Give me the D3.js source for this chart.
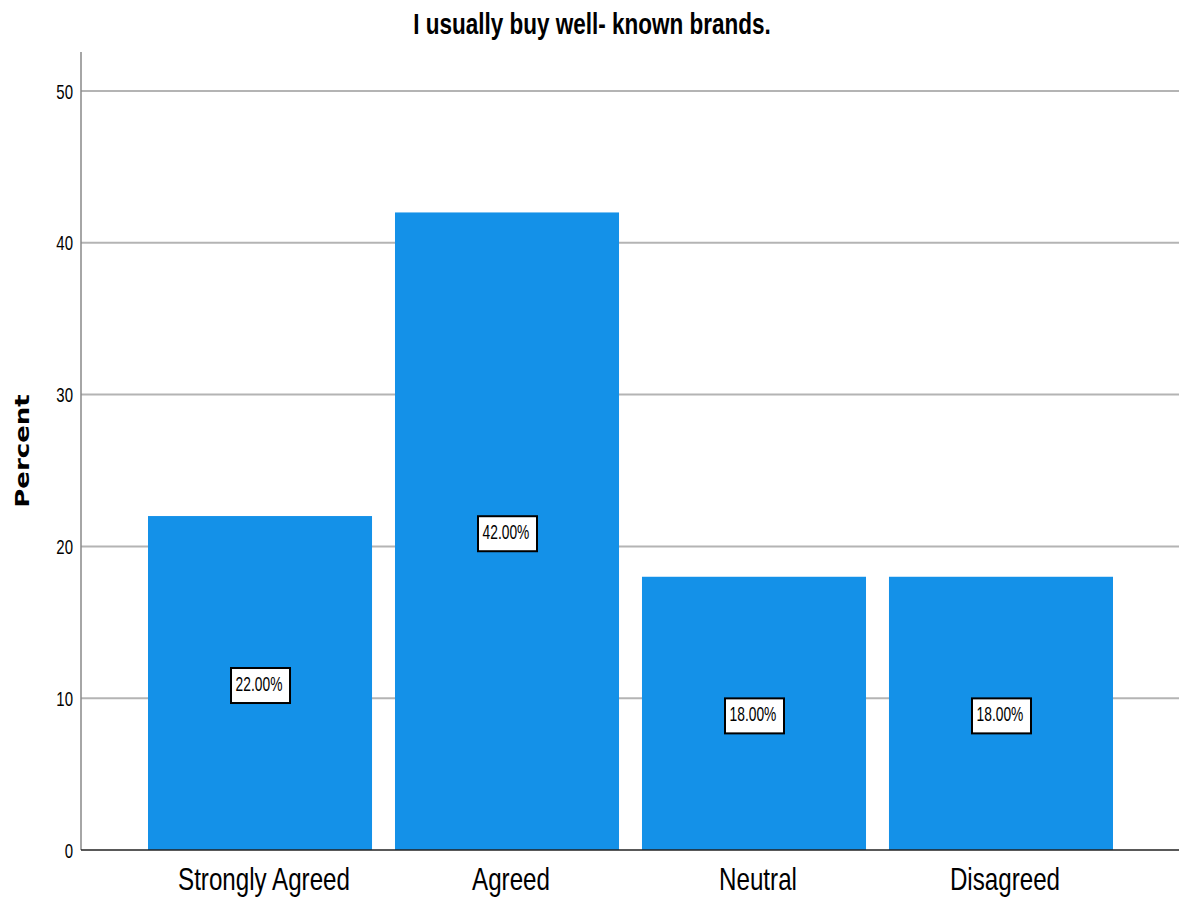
<!DOCTYPE html>
<html><head><meta charset="utf-8">
<script src="https://cdn.jsdelivr.net/npm/d3@7"></script>
<style>body{margin:0;background:#fff}svg{display:block}</style>
</head><body>
<svg id="c" width="1179" height="898"></svg>
<script>
const categories = ["Strongly Agreed", "Agreed", "Neutral", "Disagreed"];
const percents = [22, 42, 18, 18];
const labels = ["22.00%", "42.00%", "18.00%", "18.00%"];
const yTicks = [0, 10, 20, 30, 40, 50];
const title = "I usually buy well- known brands.";
const yTitle = "Percent";

const svg = d3.select("#c");
const mLeft = 81, mRight = 1179, mTop = 52, mBottom = 850;
const font = "'Liberation Sans', Arial, sans-serif";

const y = d3.scaleLinear().domain([0, 52.57]).range([mBottom, mTop]);
const x = d3.scaleBand().domain(categories).range([148, 1113]).paddingInner(0.093).paddingOuter(0);

// gridlines
svg.append("g").selectAll("line").data(yTicks.filter(d => d > 0)).join("line")
  .attr("x1", mLeft).attr("x2", mRight)
  .attr("y1", d => y(d)).attr("y2", d => y(d))
  .attr("stroke", "#b4b4b4").attr("stroke-width", 2);

// bars
svg.append("g").selectAll("rect").data(percents).join("rect")
  .attr("x", (d, i) => x(categories[i]))
  .attr("width", x.bandwidth())
  .attr("y", d => y(d))
  .attr("height", d => mBottom - y(d))
  .attr("fill", "#1491e8");

// y axis
const yAxis = d3.axisLeft(y).tickValues(yTicks).tickSize(0).tickPadding(0);
const ga = svg.append("g").attr("transform", `translate(${mLeft},0)`).call(yAxis);
ga.select(".domain").remove();
ga.selectAll("text").attr("font-family", font).attr("font-size", 20).attr("fill", "#000")
  .attr("x", 0).attr("dy", "0.35em").attr("transform", "translate(-8,0) scale(0.75,1)");
svg.append("line").attr("x1", mLeft).attr("x2", mLeft).attr("y1", mTop).attr("y2", mBottom)
  .attr("stroke", "#888").attr("stroke-width", 1.5);

// x axis
const xAxis = d3.axisBottom(x).tickSize(0).tickPadding(0);
const gx = svg.append("g").attr("transform", `translate(0,${mBottom})`).call(xAxis);
gx.select(".domain").remove();
gx.selectAll("text").attr("font-family", font).attr("font-size", 31).attr("fill", "#000")
  .attr("y", 0).attr("dy", 0).attr("transform", "translate(4,40) scale(0.78,1)");
svg.append("line").attr("x1", mLeft).attr("x2", mRight).attr("y1", mBottom).attr("y2", mBottom)
  .attr("stroke", "#222").attr("stroke-width", 1.5);

// value labels
const lg = svg.append("g").selectAll("g").data(percents).join("g")
  .attr("transform", (d, i) => `translate(${x(categories[i]) + x.bandwidth() / 2},${y(d / 2) + 2})`);
lg.append("rect").attr("x", -29).attr("y", -17).attr("width", 59).attr("height", 35)
  .attr("fill", "#fff").attr("stroke", "#000").attr("stroke-width", 2);
lg.append("text").text((d, i) => labels[i])
  .attr("text-anchor", "middle").attr("y", 6)
  .attr("transform", "translate(-1,0) scale(0.69,1)")
  .attr("font-family", font).attr("font-size", 20).attr("fill", "#000");

// title
svg.append("text").text(title)
  .attr("transform", "translate(592,34) scale(0.75,1)")
  .attr("text-anchor", "middle").attr("font-family", font)
  .attr("font-weight", "bold").attr("font-size", 30).attr("fill", "#000");

// y title
svg.append("text").text(yTitle)
  .attr("transform", "translate(29,451) rotate(-90) scale(1.3,1)")
  .attr("text-anchor", "middle").attr("font-family", "'DejaVu Sans', sans-serif")
  .attr("font-weight", "bold").attr("font-size", 20).attr("fill", "#000");
</script>
</body></html>
